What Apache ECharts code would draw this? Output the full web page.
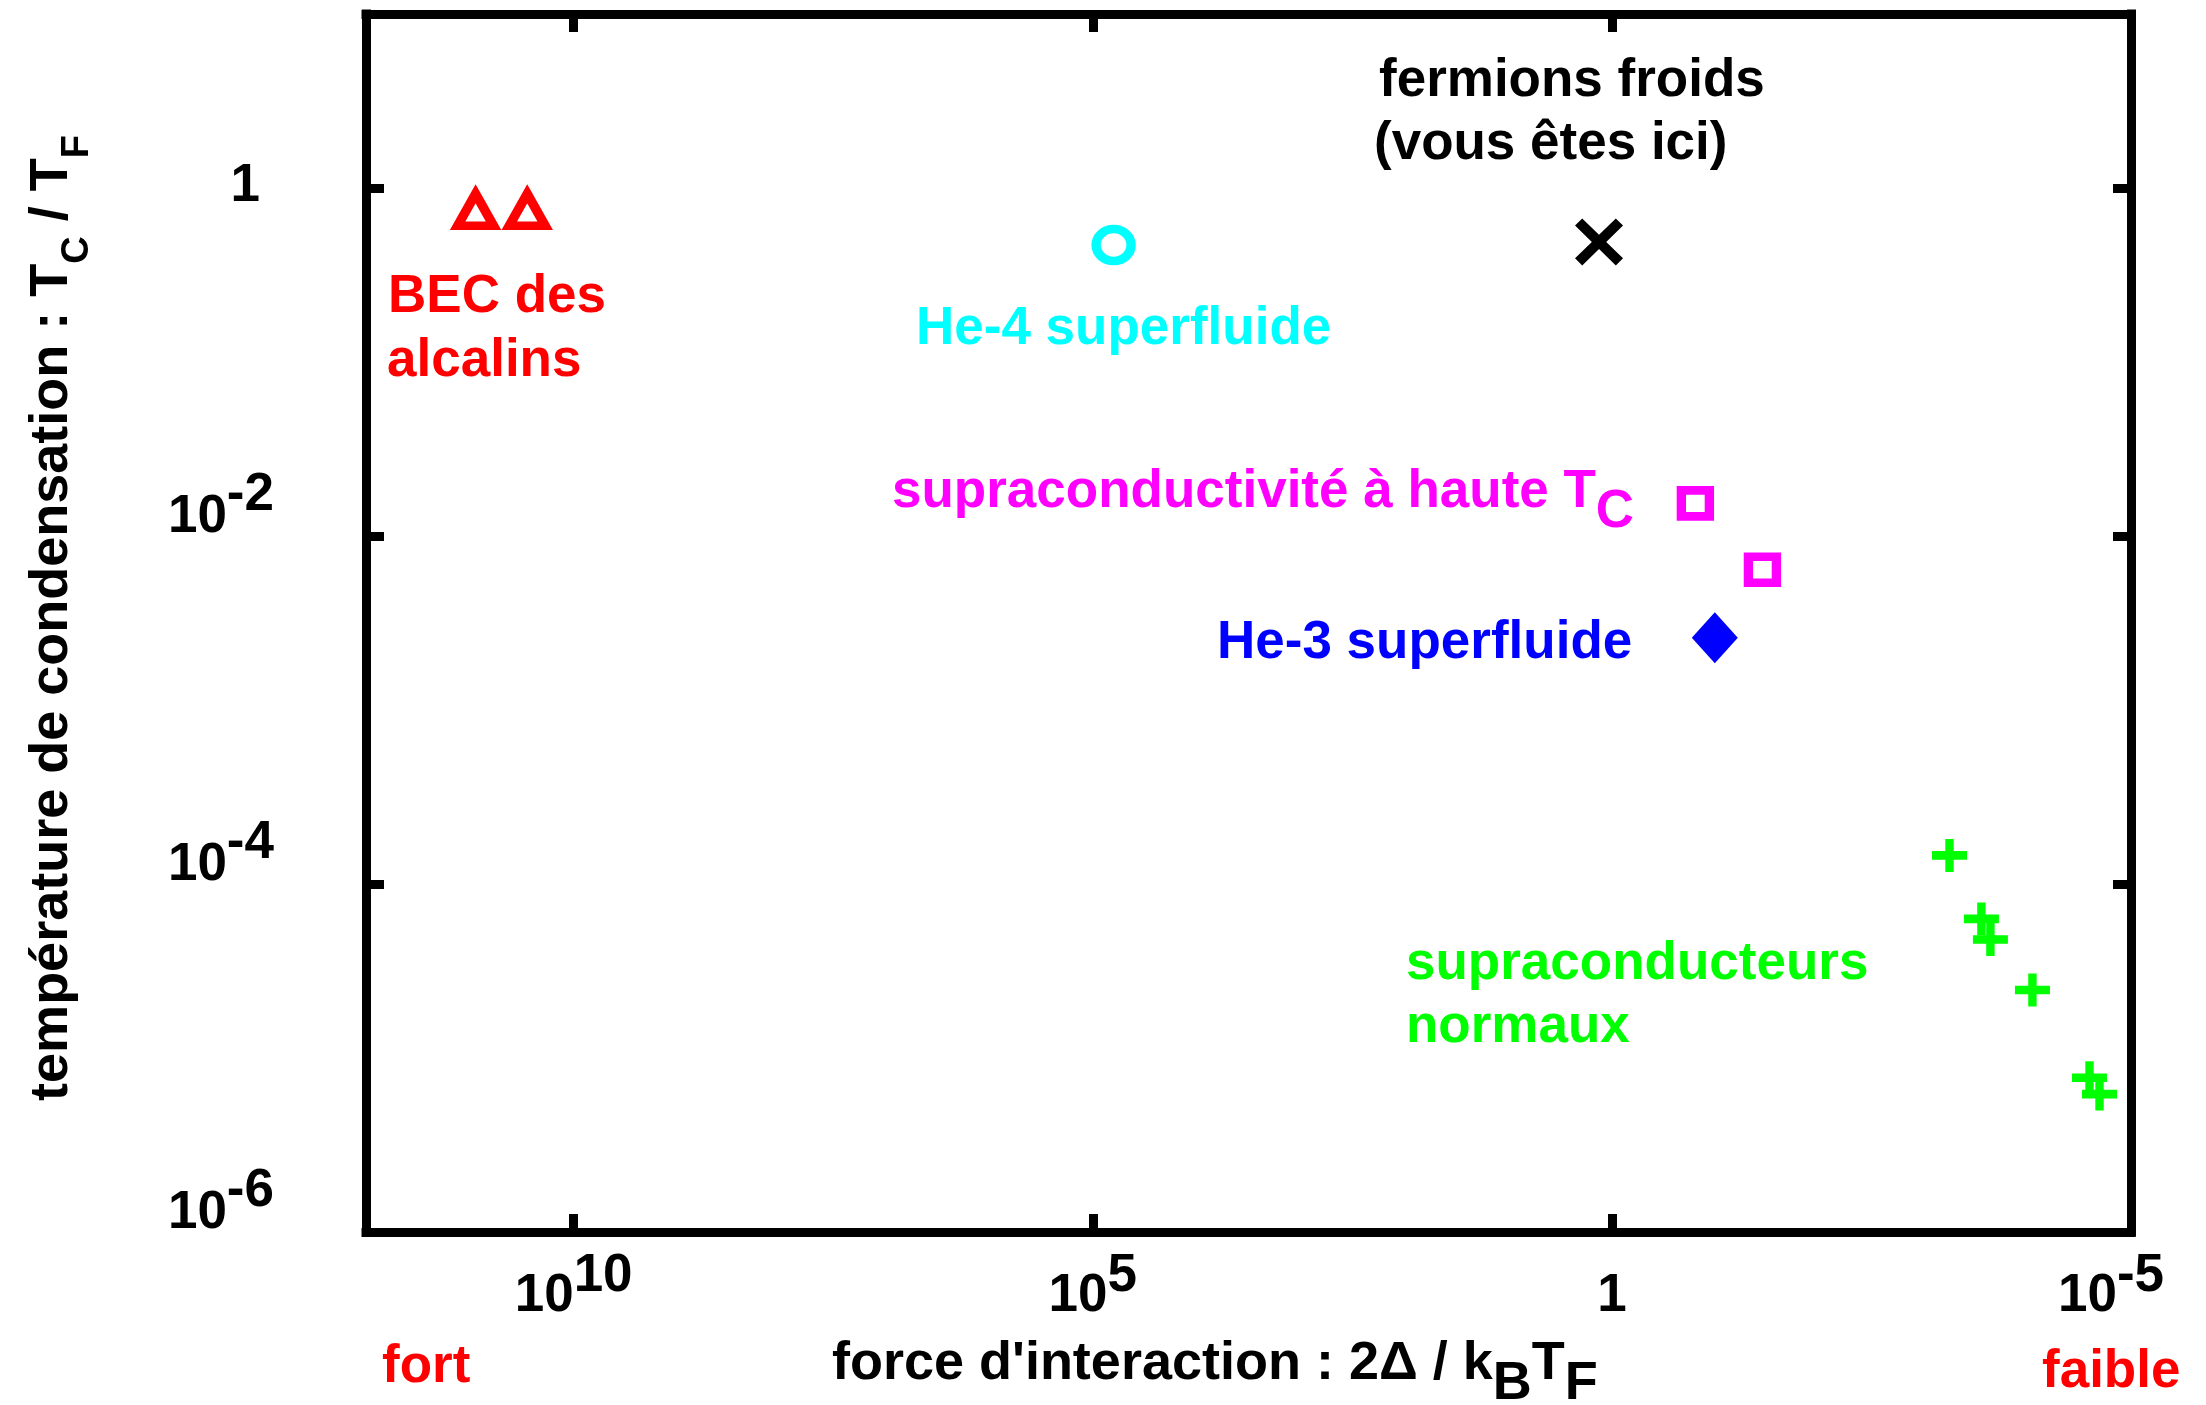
<!DOCTYPE html>
<html>
<head>
<meta charset="utf-8">
<script src="https://cdn.jsdelivr.net/npm/echarts@6/dist/echarts.min.js"></script>
<style>
  html, body { margin: 0; padding: 0; background: #ffffff; }
  #chart { width: 2206px; height: 1405px; }
</style>
</head>
<body>
<div id="chart"></div>
<script>
// Interaction strength 2Δ/kBTF (x) vs condensation temperature Tc/TF (y)
const becX = [8.8e10, 2.8e10];
const becY = [0.75, 0.75];
const he4X = [6.3e4];
const he4Y = [0.47];
const fermionX = [1.33];
const fermionY = [0.49];
const highTcX = [0.157, 0.0355];
const highTcY = [0.0154, 0.0064];
const he3X = [0.102];
const he3Y = [0.0026];
const bcsX = [5.6e-4, 2.76e-4, 2.26e-4, 8.9e-5, 2.51e-5, 2.01e-5];
const bcsY = [1.46e-4, 6.3e-5, 4.8e-5, 2.46e-5, 7.7e-6, 6.2e-6];

// Decades that carry a tick label
const xTickExps = [10, 5, 0, -5];
const yTickExps = [0, -2, -4, -6];

const FONT = '"Liberation Sans", Arial, Helvetica, sans-serif';
const FS = 53;

function pairs(xs, ys) { return xs.map((x, i) => [x, ys[i]]); }

function expOf(v) {
  const l = Math.log10(v);
  const e = Math.round(l);
  return Math.abs(l - e) < 1e-6 ? e : null;
}

function tok(extra) {
  return Object.assign({
    fontSize: FS, fontWeight: 'bold', fontFamily: FONT,
    color: '#000', fill: '#000', lineHeight: FS, verticalAlign: 'top'
  }, extra);
}

// superscripts: the exponent sits higher than the base "10"
const xLabelRich = {
  xb: tok({ padding: [20, 0, 0, 0] }),
  xs: tok({ padding: [0, 0, 0, 0] }),
  xsr: tok({ padding: [0, 40, 0, 0] }),
  xone: tok({ padding: [20, 0, 0, 0] })
};
// y labels: tall line so that the "10" rests just above its tick
const yLabelRich = {
  yb: tok({ lineHeight: 150, height: FS, padding: [30, 0, 0, 0] }),
  ys: tok({ lineHeight: 150, height: FS, padding: [8, 0, 0, 0] }),
  yone: tok({ lineHeight: 150, height: FS, padding: [47, 14, 0, 0] })
};

function xFormatter(v) {
  const e = expOf(v);
  if (e === null || xTickExps.indexOf(e) < 0) return '';
  if (e === 0) return '{xone|1}';
  if (e === xTickExps[xTickExps.length - 1]) return '{xb|10}{xsr|' + e + '}';
  return '{xb|10}{xs|' + e + '}';
}
function yFormatter(v) {
  const e = expOf(v);
  if (e === null || yTickExps.indexOf(e) < 0) return '';
  if (e === 0) return '{yone|1}';
  return '{yb|10}{ys|' + e + '}';
}

const frameLine = { show: true, onZero: false, lineStyle: { color: '#000', width: 9, cap: 'square' } };
const frameTick = { show: true, inside: true, length: 18, lineStyle: { color: '#000', width: 9 } };

function xAxisDef(pos, withLabels) {
  return {
    type: 'log', logBase: 10, inverse: true, position: pos,
    min: 1e-5, max: 1e12, interval: 5,
    axisLine: frameLine, axisTick: frameTick,
    splitLine: { show: false }, minorTick: { show: false },
    axisLabel: withLabels ? {
      show: true, margin: 18, formatter: xFormatter, rich: xLabelRich,
      fontSize: FS, fontWeight: 'bold', fontFamily: FONT, color: '#000'
    } : { show: false }
  };
}
function yAxisDef(pos, withLabels) {
  return {
    type: 'log', logBase: 10, position: pos,
    min: 1e-6, max: 10, interval: 2,
    axisLine: frameLine, axisTick: frameTick,
    splitLine: { show: false }, minorTick: { show: false },
    axisLabel: withLabels ? {
      show: true, margin: 92, formatter: yFormatter, rich: yLabelRich,
      fontSize: FS, fontWeight: 'bold', fontFamily: FONT, color: '#000'
    } : { show: false }
  };
}

const PLUS = 'path://M38,0 L62,0 L62,37 L100,37 L100,63 L62,63 L62,100 L38,100 L38,63 L0,63 L0,37 L38,37 Z';
const CROSS = 'path://M0,15 L15,0 L50,35 L85,0 L100,15 L65,50 L100,85 L85,100 L50,65 L15,100 L0,85 L35,50 Z';

function font(size) { return 'bold ' + size + 'px ' + FONT; }

// plain annotation: left edge x, text baseline y
function note(text, x, baseline, color) {
  return {
    type: 'text', x: x, y: baseline - 0.3465 * FS + 3, silent: true,
    style: {
      text: text, font: font(FS), fill: color,
      align: 'left', verticalAlign: 'middle',
      textAlign: 'left', textVerticalAlign: 'middle'
    }
  };
}

function richTok(size, color, extra) {
  return Object.assign({
    fontSize: size, fontWeight: 'bold', fontFamily: FONT,
    fill: color, color: color, lineHeight: size, verticalAlign: 'top'
  }, extra || {});
}

// annotation with a lowered subscript of the same size
function subNote(main, sub, x, baseline, color, size) {
  return {
    type: 'text', x: x, y: baseline - (size / 2 + 0.3465 * size) - 1, silent: true,
    style: {
      text: '{m|' + main + '}{s|' + sub + '}', font: font(size), fill: color,
      align: 'left', verticalAlign: 'top',
      textAlign: 'left', textVerticalAlign: 'top',
      rich: {
        m: richTok(size, color),
        s: richTok(size, color, { padding: [20, 0, 0, 0] })
      }
    }
  };
}

const xTitle = {
  type: 'text', x: 832, y: 1383 - (54 / 2 + 0.3465 * 54), silent: true,
  style: {
    text: '{m|force d\'interaction : 2Δ / k}{s|B}{m|T}{s|F}',
    font: font(54), fill: '#000',
    align: 'left', verticalAlign: 'top', textAlign: 'left', textVerticalAlign: 'top',
    rich: {
      m: richTok(54, '#000'),
      s: richTok(54, '#000', { padding: [20, 0, 0, 0] })
    }
  }
};

const yTitle = {
  type: 'text', x: 52, y: 618, rotation: Math.PI / 2, silent: true,
  style: {
    text: '{m|température de condensation : T}{s|C}{m| / T}{s|F}',
    font: font(54), fill: '#000',
    align: 'center', verticalAlign: 'middle', textAlign: 'center', textVerticalAlign: 'middle',
    rich: {
      m: richTok(54, '#000'),
      s: richTok(38, '#000', { padding: [34, 0, 0, 0] })
    }
  }
};

const chart = echarts.init(document.getElementById('chart'), null, { renderer: 'canvas' });

chart.setOption({
  animation: false,
  backgroundColor: '#ffffff',
  grid: { left: 366, right: 75, top: 14, bottom: 173, containLabel: false, outerBoundsMode: 'none' },
  xAxis: [xAxisDef('bottom', true), xAxisDef('top', false)],
  yAxis: [yAxisDef('left', true), yAxisDef('right', false)],
  series: [
    {
      name: 'BEC des alcalins', type: 'scatter', xAxisIndex: 0, yAxisIndex: 0,
      data: pairs(becX, becY), symbol: 'triangle', symbolSize: [36, 32],
      itemStyle: { color: '#ffffff', borderColor: '#ff0000', borderWidth: 9, opacity: 1 }
    },
    {
      name: 'He-4 superfluide', type: 'scatter',
      data: pairs(he4X, he4Y), symbol: 'circle', symbolSize: [35, 32],
      itemStyle: { color: '#ffffff', borderColor: '#00ffff', borderWidth: 9, opacity: 1 }
    },
    {
      name: 'fermions froids', type: 'scatter',
      data: pairs(fermionX, fermionY), symbol: CROSS, symbolSize: [48, 47],
      itemStyle: { color: '#000000', opacity: 1 }
    },
    {
      name: 'supraconductivité à haute Tc', type: 'scatter',
      data: pairs(highTcX, highTcY), symbol: 'rect', symbolSize: [28, 26],
      itemStyle: { color: '#ffffff', borderColor: '#ff00ff', borderWidth: 9, opacity: 1 }
    },
    {
      name: 'He-3 superfluide', type: 'scatter',
      data: pairs(he3X, he3Y), symbol: 'diamond', symbolSize: [46, 51],
      itemStyle: { color: '#0000ff', opacity: 1 }
    },
    {
      name: 'supraconducteurs normaux', type: 'scatter',
      data: pairs(bcsX, bcsY), symbol: PLUS, symbolSize: [35, 33],
      itemStyle: { color: '#00ff00', opacity: 1 }
    }
  ],
  graphic: { elements: [
    note('BEC des', 388, 313, '#ff0000'),
    note('alcalins', 387, 377, '#ff0000'),
    note('He-4 superfluide', 916, 345, '#00ffff'),
    note('fermions froids', 1379, 97, '#000000'),
    note('(vous êtes ici)', 1374, 160, '#000000'),
    subNote('supraconductivité à haute T', 'C', 892, 512, '#ff00ff', FS),
    note('He-3 superfluide', 1217, 659, '#0000ff'),
    note('supraconducteurs', 1406, 980, '#00ff00'),
    note('normaux', 1406, 1043, '#00ff00'),
    note('fort', 382, 1383, '#ff0000'),
    note('faible', 2042, 1388, '#ff0000'),
    xTitle,
    yTitle
  ] }
});
</script>
</body>
</html>
